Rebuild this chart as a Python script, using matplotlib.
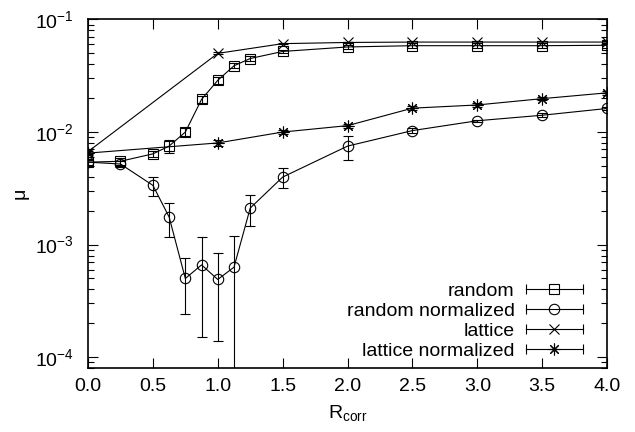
'''
mu vs R_corr for random / lattice configurations, log scale with error bars
'''

import matplotlib
matplotlib.use('Agg')
import matplotlib.pyplot as plt
from matplotlib.lines import Line2D
from matplotlib.legend_handler import HandlerBase
from matplotlib.ticker import LogLocator, MultipleLocator, NullFormatter


# ========================================================================
# data
# ========================================================================

x_random = [0.0, 0.25, 0.5, 0.625, 0.75, 0.875, 1.0, 1.125, 1.25, 1.5, 2.0, 2.5, 3.0, 3.5, 4.0]
y_random = [5.4e-3, 5.5e-3, 6.4e-3, 7.5e-3, 1.0e-2, 1.95e-2, 2.88e-2, 3.88e-2, 4.5e-2,
            5.2e-2, 5.7e-2, 5.85e-2, 5.85e-2, 5.85e-2, 5.9e-2]
err_random = [4e-4, 4e-4, 4e-4, 1.0e-3, 8e-4, 1.5e-3, 2e-3, 2e-3, 2e-3,
              2e-3, 2e-3, 3e-3, 3e-3, 3e-3, 3e-3]

x_random_norm = [0.0, 0.25, 0.5, 0.625, 0.75, 0.875, 1.0, 1.125, 1.25, 1.5, 2.0, 2.5, 3.0, 3.5, 4.0]
y_random_norm = [5.4e-3, 5.2e-3, 3.36e-3, 1.76e-3, 5.0e-4, 6.6e-4, 4.9e-4, 6.3e-4, 2.11e-3,
                 3.98e-3, 7.5e-3, 1.03e-2, 1.26e-2, 1.41e-2, 1.62e-2]
err_random_norm = [3e-4, 3e-4, 6.5e-4, 6e-4, 2.6e-4, 5.1e-4, 3.5e-4, 5.6e-4, 6.5e-4,
                   8e-4, 1.8e-3, 5e-4, 3e-4, 6e-4, 4e-4]

x_lattice = [0.0, 1.0, 1.5, 2.0, 2.5, 3.0, 3.5, 4.0]
y_lattice = [6.7e-3, 5.0e-2, 6.1e-2, 6.25e-2, 6.3e-2, 6.3e-2, 6.3e-2, 6.3e-2]
err_lattice = [3e-4, 1e-3, 1e-3, 1e-3, 1e-3, 1e-3, 1e-3, 1e-3]

x_lattice_norm = [0.0, 1.0, 1.5, 2.0, 2.5, 3.0, 3.5, 4.0]
y_lattice_norm = [6.5e-3, 8.0e-3, 1.0e-2, 1.14e-2, 1.63e-2, 1.74e-2, 1.98e-2, 2.23e-2]
err_lattice_norm = [3e-4, 5e-4, 4e-4, 5e-4, 6e-4, 6e-4, 6e-4, 8e-4]

series_labels = ['random', 'random normalized', 'lattice', 'lattice normalized']
x_ticks = [0.0, 0.5, 1.0, 1.5, 2.0, 2.5, 3.0, 3.5, 4.0]

# ========================================================================
# style
# ========================================================================

plt.rcParams['font.family'] = ['Liberation Sans', 'DejaVu Sans']
plt.rcParams['font.size'] = 14
plt.rcParams['mathtext.fontset'] = 'custom'
plt.rcParams['mathtext.rm'] = 'Liberation Sans'
plt.rcParams['mathtext.it'] = 'Liberation Sans:italic'
plt.rcParams['mathtext.default'] = 'regular'

lw = 0.8


class HandlerErrLine(HandlerBase):
    '''gnuplot-like legend sample: horizontal line with end caps and marker'''
    def create_artists(self, legend, orig_handle, xdescent, ydescent,
                       width, height, fontsize, trans):
        y = height / 2.0 - ydescent
        x0 = -xdescent
        x1 = width - xdescent
        line = Line2D([x0, x1], [y, y], color='black', lw=lw)
        caps = Line2D([x0, x1], [y, y], ls='none', marker='|', ms=7,
                      mew=lw, color='black')
        mk = Line2D([(x0 + x1) / 2.0], [y], ls='none',
                    marker=orig_handle.get_marker(),
                    ms=orig_handle.get_markersize(),
                    mfc='none', mec='black', mew=lw)
        for a in (line, caps, mk):
            a.set_transform(trans)
        return [line, caps, mk]


def err_plot(ax, x, y, err, marker, ms):
    c = ax.errorbar(x, y, yerr=err, fmt='-', marker=marker, ms=ms,
                    mfc='none', mec='black', mew=lw, color='black', lw=lw,
                    elinewidth=lw, ecolor='black', capsize=3.5, capthick=lw)
    return c[0]


# ========================================================================
# plot
# ========================================================================

fig = plt.figure(figsize=(6.35, 4.32), dpi=100)
ax = fig.add_axes([0.1386, 0.148, 0.956 - 0.1386, 0.9549 - 0.148])

h1 = err_plot(ax, x_random, y_random, err_random, 's', 7.5)
h2 = err_plot(ax, x_random_norm, y_random_norm, err_random_norm, 'o', 7.5)
h3 = err_plot(ax, x_lattice, y_lattice, err_lattice, 'x', 7.5)
h4 = err_plot(ax, x_lattice_norm, y_lattice_norm, err_lattice_norm, (8, 2, 0), 8.5)

ax.set_yscale('log')
ax.set_xlim(0, 4.0)
ax.set_ylim(8e-5, 0.1)
ax.set_xticks(x_ticks)
ax.set_xticklabels(['%.1f' % v for v in x_ticks])
ax.xaxis.set_minor_locator(MultipleLocator(10))
ax.yaxis.set_major_locator(LogLocator(base=10, numticks=10))
ax.yaxis.set_minor_locator(LogLocator(base=10, subs=range(2, 10), numticks=20))
ax.yaxis.set_minor_formatter(NullFormatter())

ax.tick_params(which='both', direction='in', top=True, right=True, width=lw)
ax.tick_params(which='major', length=7, pad=7)
ax.tick_params(which='minor', length=4)
ax.tick_params(axis='y', which='major', pad=10)
for s in ax.spines.values():
    s.set_linewidth(1.2)

ax.set_xlabel('R$_{corr}$', labelpad=6)
ax.set_ylabel('μ', labelpad=5)

ax.legend(handles=[h1, h2, h3, h4], labels=series_labels, loc='lower right',
          bbox_to_anchor=(0.968, 0.002), borderaxespad=0,
          frameon=False, markerfirst=False, handlelength=2.9, handletextpad=0.6,
          labelspacing=0.12,
          handler_map={Line2D: HandlerErrLine()})

plt.savefig('out.png', dpi=100)
